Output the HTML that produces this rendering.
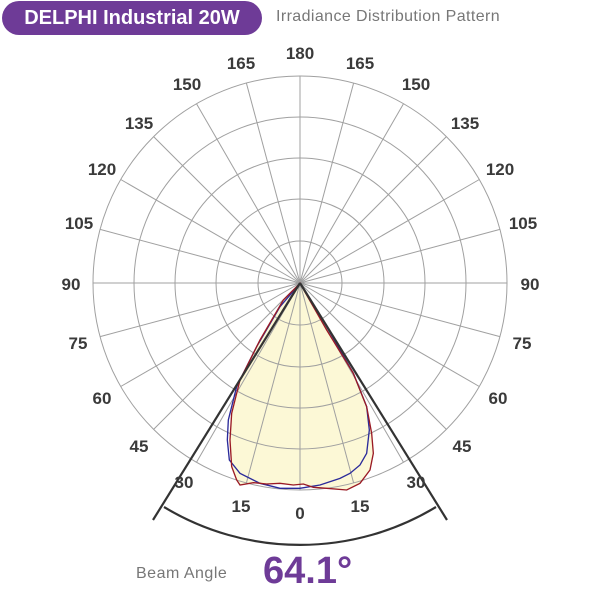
<!DOCTYPE html>
<html><head><meta charset="utf-8"><style>
body{margin:0;background:#fff;width:600px;height:600px;overflow:hidden;position:relative;font-family:"Liberation Sans",sans-serif}
.pill{position:absolute;left:2px;top:1px;width:260px;height:34px;border-radius:17px;background:#6e3b97;color:#fff;font-weight:bold;font-size:20px;line-height:34px;text-align:center}
.sub{position:absolute;left:276px;top:8px;font-size:16px;color:#777;letter-spacing:0.4px}
.ba{position:absolute;left:136px;top:565px;font-size:16px;color:#777;letter-spacing:0.5px}
.val{position:absolute;left:263px;top:550px;font-size:38px;font-weight:bold;color:#6e3b97}
</style></head><body>
<div class="pill">DELPHI Industrial 20W</div>
<div class="sub">Irradiance Distribution Pattern</div>
<svg width="600" height="600" style="position:absolute;left:0;top:0">
<g transform="translate(140,280) scale(0.33333)">
<path d="M480,10 L560,150 L640,280 L680,380 L695,460 L700,520 L690,570 L660,610 L620,630 L560,625 L520,622 L490,612 L460,615 L420,610 L380,612 L340,608 L300,615 L290,600 L275,560 L270,480 L275,400 L300,300 L360,180 L430,60 Z" fill="#fcf8d6" stroke="none"/>
</g>
<g fill="none" stroke="#a0a0a0" stroke-width="1">
<circle cx="300" cy="283" r="207"/><circle cx="300" cy="283" r="166"/><circle cx="300" cy="283" r="125"/><circle cx="300" cy="283" r="84"/><circle cx="300" cy="283" r="42"/>
<g id="sp">
<line x1="300" y1="283" x2="507" y2="283"/>
<line x1="300" y1="283" x2="499.9" y2="229.4"/><line x1="300" y1="283" x2="479.3" y2="179.5"/><line x1="300" y1="283" x2="446.4" y2="136.6"/><line x1="300" y1="283" x2="403.5" y2="103.7"/><line x1="300" y1="283" x2="353.6" y2="83.1"/>
<line x1="300" y1="283" x2="300" y2="76"/>
<line x1="300" y1="283" x2="246.4" y2="83.1"/><line x1="300" y1="283" x2="196.5" y2="103.7"/><line x1="300" y1="283" x2="153.6" y2="136.6"/><line x1="300" y1="283" x2="120.7" y2="179.5"/><line x1="300" y1="283" x2="100.1" y2="229.4"/><line x1="300" y1="283" x2="93" y2="283"/>
</g>
<use href="#sp" transform="rotate(180 300 283)"/>
</g>
<g transform="translate(140,280) scale(0.33333)">
<path d="M480,10 L420,80 L350,200 L290,320 L265,420 L262,480 L268,540 L300,580 L360,610 L420,625 L480,625 L540,615 L600,595 L630,580 L660,555 L680,520 L688,450 L680,380 L640,280 L560,140 Z" fill="none" stroke="#2a2a9a" stroke-width="4"/>
<path d="M480,10 L560,150 L640,280 L680,380 L695,460 L700,520 L690,570 L660,610 L620,630 L560,625 L520,622 L490,612 L460,615 L420,610 L380,612 L340,608 L300,615 L290,600 L275,560 L270,480 L275,400 L300,300 L360,180 L430,60 Z" fill="none" stroke="#9a1a24" stroke-width="4"/>
</g>
<g stroke="#333" stroke-width="2.2" fill="none">
<line x1="300" y1="283" x2="153" y2="520"/><line x1="300" y1="283" x2="447" y2="520"/>
<path d="M164,507 A263 263 0 0 0 436,507"/>
</g>
<g font-family="Liberation Sans,sans-serif" font-weight="bold" font-size="17" fill="#3a3a3a" text-anchor="middle">
<text x="300" y="59">180</text><text x="241" y="69">165</text><text x="360" y="69">165</text>
<text x="187" y="90">150</text><text x="416" y="90">150</text><text x="139" y="129">135</text><text x="465" y="129">135</text>
<text x="102" y="175">120</text><text x="500" y="175">120</text><text x="79" y="229">105</text><text x="523" y="229">105</text>
<text x="71" y="290">90</text><text x="530" y="290">90</text><text x="78" y="349">75</text><text x="522" y="349">75</text>
<text x="102" y="404">60</text><text x="498" y="404">60</text><text x="139" y="452">45</text><text x="462" y="452">45</text>
<text x="184" y="488">30</text><text x="416" y="488">30</text><text x="241" y="512">15</text><text x="360" y="512">15</text>
<text x="300" y="519">0</text>
</g>
</svg>
<div class="ba">Beam Angle</div>
<div class="val">64.1°</div>
</body></html>
